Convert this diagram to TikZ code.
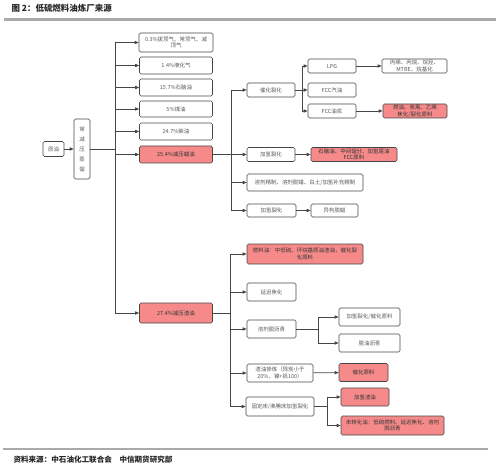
\documentclass[tikz,border=0pt]{standalone}
\usepackage{fontspec}
\setmainfont{Liberation Sans}
\newfontfamily\cjk{Noto Sans CJK SC}
\usepackage{xcolor}
\usepackage{tikz}
\usetikzlibrary{positioning}
\usetikzlibrary{arrows.meta}
\definecolor{pinkfill}{RGB}{246,138,138}
\definecolor{linegray}{RGB}{70,70,70}
\definecolor{rulegray}{RGB}{170,170,170}

\begin{document}
\begin{tikzpicture}[x=1bp, y=-1bp, align=center, >={Triangle[length=4bp,width=3.2bp]},
  box/.style={draw=linegray, line width=0.6bp, rounded corners=1.5bp, inner sep=0.8bp,
    font=\cjk\fontsize{5.5}{6.6}\selectfont, text=black!65},
  hot/.style={box, fill=pinkfill, text=black!80},
  sz/.style 2 args={minimum width=#1bp, minimum height=#2bp},
  link/.style={draw=linegray, line width=0.8bp}]
  \useasboundingbox (0,0) rectangle (500,470);
  % title and rules
  \node (T) [anchor=west, font=\cjk\bfseries\fontsize{8.5}{10}\selectfont, text=black!85] at (8,8.5) {图 2：低硫燃料油炼厂来源};
  \draw[rulegray, line width=2.4bp] (4,19.5) -- (496,19.5);
  \draw[rulegray, line width=1.5bp] (3,449) -- (488,449);
  \node (S) [anchor=west, font=\cjk\bfseries\fontsize{7.6}{9}\selectfont, text=black!85] at (10,459.5) {资料来源：中石油化工联合会\quad 中信期货研究部};
  % crude and distillation
  \node (Y) [box, sz={21}{15}] at (53.5,149) {原油};
  \node (D) [box, sz={16}{60}, font=\cjk\fontsize{5.5}{10}\selectfont] at (82,149) {常\\减\\压\\蒸\\馏};
  % cuts
  \node (P1) [box, sz={74}{19}] at (176,42.5) {0.3\%拔顶气、常顶气、减\\顶气};
  \node (P2) [box, sz={73}{17}] at (176,65.5) {1.4\%液化气};
  \node (P3) [box, sz={73}{17}] at (176,87.5) {15.7\%石脑油};
  \node (P4) [box, sz={73}{16}] at (176,109) {5\%煤油};
  \node (P5) [box, sz={73}{17}] at (176,131.5) {24.7\%柴油};
  \node (P6) [hot, sz={73}{17}] at (176,154.5) {25.4\%减压蜡油};
  \node (P7) [hot, sz={73}{20}] at (176,313) {27.4\%减压渣油};
  % vacuum gas oil
  \node (W1) [box, sz={48}{14}] at (271,90) {催化裂化};
  \node (W2) [box, sz={48}{14}] at (271,154.5) {加氢裂化};
  \node (W3) [box, sz={116}{17}] at (305,182.5) {溶剂精制、溶剂脱蜡、白土/加氢补充精制};
  \node (W4) [box, sz={49}{13}] at (271.5,210.5) {加氢裂化};
  \node (W4o) [box, sz={47}{13}] at (334.5,210.5) {异构脱蜡};
  \node (W2o) [hot, sz={86}{14}] at (354,154.5) {石脑油、中间馏分、加氢尾油\\FCC原料};
  \node (F1) [box, sz={48}{14}] at (332,66) {LPG};
  \node (F2) [box, sz={48}{14}] at (332,90) {FCC汽油};
  \node (F3) [box, sz={48}{14}] at (332,111) {FCC油浆};
  \node (F1o) [box, sz={65}{14}] at (414.5,66) {丙烯、丙烷、烷烃、\\MTBE、烷基化};
  \node (F3o) [hot, sz={64}{14}] at (415,111) {燃油、炭黑、乙烯\\焦化/裂化原料};
  % vacuum residue
  \node (R1) [hot, sz={116}{20}] at (305,254) {燃料油：中低硫、环烷基原油渣油，催化裂\\化原料};
  \node (R2) [box, sz={49}{18}] at (271.5,292) {延迟焦化};
  \node (R3) [box, sz={49}{18}] at (271.5,329) {溶剂脱沥青};
  \node (R3a) [box, sz={61}{18}] at (369.5,317) {加氢裂化/催化原料};
  \node (R3b) [box, sz={61}{18}] at (369.5,343) {脱油沥青};
  \node (R4) [box, sz={66}{18}] at (280,373) {渣油掺炼（残炭小于\\20\%、镍+钒100）};
  \node (R4o) [hot, sz={49}{18}] at (363.5,372.5) {催化原料};
  \node (R5) [box, sz={68}{19}] at (280,406.5) {固定床/沸腾床加氢裂化};
  \node (R5a) [hot, sz={48}{18}] at (365,397) {加氢渣油};
  \node (R5b) [hot, sz={103}{19}] at (392.5,425.5) {未转化油：低硫燃料、延迟焦化、溶剂\\脱沥青};
  % connectors
  \coordinate (J0) at (115,149);
  \coordinate (J1) at (231,154.5);
  \coordinate (J2) at (302,90);
  \coordinate (J3) at (230,313);
  \coordinate (J4) at (318,329);
  \coordinate (J5) at (327,406.5);
  \draw[link,->] (Y) -- (D);
  \draw[link] (D) -- (J0);
  \foreach \n in {P1,P2,P3,P4,P5,P6,P7}
    \draw[link,->] (J0) |- (\n);
  \draw[link] (P6) -- (J1);
  \foreach \n in {W1,W2,W3,W4}
    \draw[link,->] (J1) |- (\n);
  \draw[link] (W1) -- (J2);
  \foreach \n in {F1,F2,F3}
    \draw[link,->] (J2) |- (\n);
  \draw[link,->] (F1) -- (F1o);
  \draw[link,->] (F3) -- (F3o);
  \draw[link,->] (W2) -- (W2o);
  \draw[link,->] (W4) -- (W4o);
  \draw[link] (P7) -- (J3);
  \foreach \n in {R1,R2,R3,R4,R5}
    \draw[link,->] (J3) |- (\n);
  \draw[link] (R3) -- (J4);
  \foreach \n in {R3a,R3b}
    \draw[link,->] (J4) |- (\n);
  \draw[link,->] (R4) -- (R4o);
  \draw[link] (R5) -- (J5);
  \foreach \n in {R5a,R5b}
    \draw[link,->] (J5) |- (\n);
\end{tikzpicture}
\end{document}
